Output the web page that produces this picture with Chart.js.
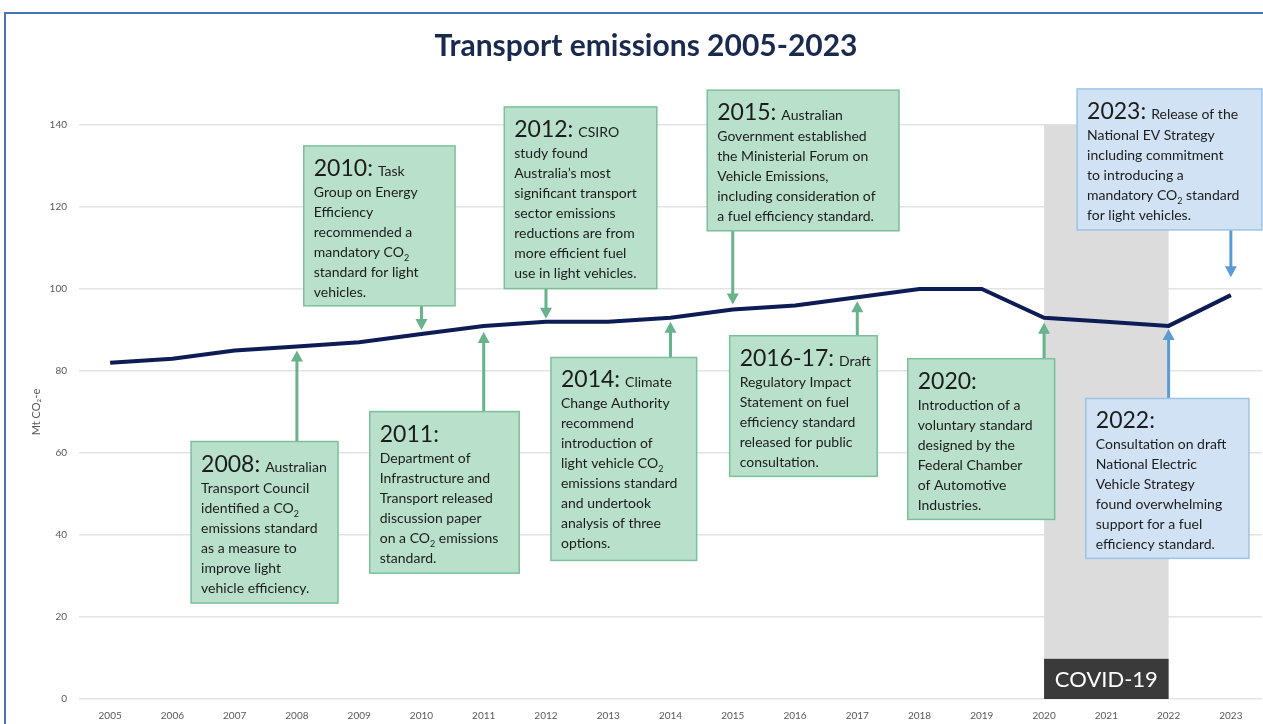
<!DOCTYPE html>
<html>
<head>
<meta charset="utf-8">
<script src="https://cdn.jsdelivr.net/npm/chart.js@4.4.0/dist/chart.umd.min.js"></script>
<style>
  html, body { margin: 0; padding: 0; background: #fff; overflow: hidden; }
  #frame {
    position: absolute; left: 4px; top: 12px; width: 1259px; height: 712px;
    border-top: 2px solid #4a72b5; border-left: 2px solid #4a72b5;
  }
  canvas { position: absolute; left: 0; top: 0; }
</style>
</head>
<body>
<div id="frame"></div>
<canvas id="chart" width="1263" height="724"></canvas>
<script>
// data
const years = ['2005', '2006', '2007', '2008', '2009', '2010', '2011', '2012', '2013', '2014',
  '2015', '2016', '2017', '2018', '2019', '2020', '2021', '2022', '2023'];
const emissions = [82, 83, 85, 86, 87, 89, 91, 92, 92, 93, 95, 96, 98, 100, 100, 93, 92, 91, 98.5];
const yTickMin = 0;
const yTickMax = 140;
const yTickStep = 20;

const covidYears = ['2020', '2022'];
const covidLabel = 'COVID-19';

// milestone notes: year the arrow points at, heading, rest of first line, body lines
const noteYears = ['2008', '2010', '2011', '2012', '2014', '2015', '2017', '2020', '2022', '2023'];
const noteHeads = ['2008:', '2010:', '2011:', '2012:', '2014:', '2015:', '2016-17:', '2020:', '2022:', '2023:'];
const noteLeads = ['Australian', 'Task', '', 'CSIRO', 'Climate', 'Australian', 'Draft', '', '', 'Release of the'];
const noteLines = [
  ['Transport Council', 'identified a CO₂', 'emissions standard', 'as a measure to', 'improve light', 'vehicle efficiency.'],
  ['Group on Energy', 'Efficiency', 'recommended a', 'mandatory CO₂', 'standard for light', 'vehicles.'],
  ['Department of', 'Infrastructure and', 'Transport released', 'discussion paper', 'on a CO₂ emissions', 'standard.'],
  ['study found', 'Australia’s most', 'significant transport', 'sector emissions', 'reductions are from', 'more efficient fuel', 'use in light vehicles.'],
  ['Change Authority', 'recommend', 'introduction of', 'light vehicle CO₂', 'emissions standard', 'and undertook', 'analysis of three', 'options.'],
  ['Government established', 'the Ministerial Forum on', 'Vehicle Emissions,', 'including consideration of', 'a fuel efficiency standard.'],
  ['Regulatory Impact', 'Statement on fuel', 'efficiency standard', 'released for public', 'consultation.'],
  ['Introduction of a', 'voluntary standard', 'designed by the', 'Federal Chamber', 'of Automotive', 'Industries.'],
  ['Consultation on draft', 'National Electric', 'Vehicle Strategy', 'found overwhelming', 'support for a fuel', 'efficiency standard.'],
  ['National EV Strategy', 'including commitment', 'to introducing a', 'mandatory CO₂ standard', 'for light vehicles.']
];

// layout of the note boxes in axis units: [left idx, right idx, top value, bottom value], arrow dir, gap px, tone
const noteLayout = [
  { box: [1.30, 3.66, 62.8, 23.4], dir: 'up', gap: 4, tone: 'green' },
  { box: [3.11, 5.54, 134.9, 95.9], dir: 'down', gap: 4, tone: 'green' },
  { box: [4.17, 6.57, 70.1, 30.7], dir: 'up', gap: 6, tone: 'green' },
  { box: [6.33, 8.78, 144.4, 100.1], dir: 'down', gap: 3, tone: 'green' },
  { box: [7.08, 9.42, 83.3, 33.8], dir: 'up', gap: 4, tone: 'green' },
  { box: [9.59, 12.67, 148.5, 114.2], dir: 'down', gap: 5, tone: 'green' },
  { box: [9.95, 12.32, 88.6, 54.3], dir: 'up', gap: 4, tone: 'green' },
  { box: [12.81, 15.17, 83.0, 43.8], dir: 'up', gap: 5, tone: 'green' },
  { box: [15.67, 18.29, 73.3, 34.3], dir: 'up', gap: 3, tone: 'blue' },
  { box: [15.53, 18.50, 148.8, 114.4], dir: 'down', gap: 18, tone: 'blue' }
];

const tones = {
  green: { fill: '#b9e0cb', stroke: '#7cc09a', arrow: '#66b38c' },
  blue: { fill: '#d0e2f4', stroke: '#9cc3e8', arrow: '#5b9bd5' }
};

const FONT = 'Lato, "Open Sans", sans-serif';
const BODY = 14;

function drawRich(ctx, str, x, y, size) {
  // draws text, rendering "₂" as a small lowered 2
  const parts = str.split('₂');
  let cx = x;
  parts.forEach((p, i) => {
    ctx.font = size + 'px ' + FONT;
    ctx.fillText(p, cx, y);
    cx += ctx.measureText(p).width;
    if (i < parts.length - 1) {
      ctx.font = Math.round(size * 0.65) + 'px ' + FONT;
      ctx.fillText('2', cx, y + 4);
      cx += ctx.measureText('2').width;
    }
  });
  return cx;
}

const notesPlugin = {
  id: 'notes',
  beforeDatasetsDraw(chart) {
    const { ctx, scales: { x, y } } = chart;
    const x0 = x.getPixelForValue(years.indexOf(covidYears[0]));
    const x1 = x.getPixelForValue(years.indexOf(covidYears[1]));
    const yTop = y.getPixelForValue(yTickMax);
    const yBot = y.getPixelForValue(0);
    ctx.save();
    ctx.fillStyle = '#dcdcdc';
    ctx.fillRect(x0, yTop, x1 - x0, yBot - yTop);
    const labTop = y.getPixelForValue(9.8);
    ctx.fillStyle = '#3a3a3a';
    ctx.fillRect(x0, labTop, x1 - x0, yBot - labTop);
    ctx.fillStyle = '#ffffff';
    ctx.font = '22px ' + FONT;
    ctx.textAlign = 'center';
    ctx.textBaseline = 'middle';
    ctx.fillText(covidLabel, (x0 + x1) / 2, (labTop + yBot) / 2 + 1);
    ctx.restore();
  },
  afterDatasetsDraw(chart) {
    const { ctx, scales: { x, y } } = chart;
    ctx.save();
    noteYears.forEach((yr, i) => {
      const lay = noteLayout[i];
      const tone = tones[lay.tone];
      const left = x.getPixelForValue(lay.box[0]);
      const right = x.getPixelForValue(lay.box[1]);
      const top = y.getPixelForValue(lay.box[2]);
      const bottom = y.getPixelForValue(lay.box[3]);

      // arrow
      const idx = years.indexOf(yr);
      const ax = x.getPixelForValue(idx);
      const lineY = y.getPixelForValue(emissions[idx]);
      const head = 10, half = 6;
      ctx.strokeStyle = tone.arrow;
      ctx.fillStyle = tone.arrow;
      ctx.lineWidth = 3;
      let tip;
      if (lay.dir === 'up') {
        tip = lineY + lay.gap;
        ctx.beginPath(); ctx.moveTo(ax, top); ctx.lineTo(ax, tip + head); ctx.stroke();
        ctx.beginPath(); ctx.moveTo(ax, tip); ctx.lineTo(ax - half, tip + head + 1); ctx.lineTo(ax + half, tip + head + 1); ctx.closePath(); ctx.fill();
      } else {
        tip = lineY - lay.gap;
        ctx.beginPath(); ctx.moveTo(ax, bottom); ctx.lineTo(ax, tip - head); ctx.stroke();
        ctx.beginPath(); ctx.moveTo(ax, tip); ctx.lineTo(ax - half, tip - head - 1); ctx.lineTo(ax + half, tip - head - 1); ctx.closePath(); ctx.fill();
      }

      // box
      ctx.fillStyle = tone.fill;
      ctx.fillRect(left, top, right - left, bottom - top);
      ctx.strokeStyle = tone.stroke;
      ctx.lineWidth = 1.5;
      ctx.strokeRect(left, top, right - left, bottom - top);

      // text
      ctx.fillStyle = '#1c1c1c';
      ctx.textAlign = 'left';
      ctx.textBaseline = 'alphabetic';
      const tx = left + 10;
      let ty = top + 30;
      ctx.font = '23px ' + FONT;
      ctx.fillText(noteHeads[i], tx, ty);
      const hw = ctx.measureText(noteHeads[i]).width;
      if (noteLeads[i]) drawRich(ctx, noteLeads[i], tx + hw + 5, ty, BODY);
      ty += 21;
      noteLines[i].forEach(line => {
        drawRich(ctx, line, tx, ty, BODY);
        ty += 20;
      });
    });
    ctx.restore();
  }
};

new Chart(document.getElementById('chart'), {
  type: 'line',
  data: {
    labels: years,
    datasets: [{
      data: emissions,
      borderColor: '#0e1c55',
      borderWidth: 4,
      pointRadius: 0,
      tension: 0,
      fill: false
    }]
  },
  options: {
    responsive: false,
    devicePixelRatio: 1,
    animation: false,
    layout: { padding: { left: 30, right: 1, top: 0, bottom: 0 } },
    plugins: {
      legend: { display: false },
      tooltip: { enabled: false },
      title: {
        display: true,
        text: 'Transport emissions 2005-2023',
        color: '#1a2a4f',
        font: { family: FONT, size: 30, weight: 'bold' },
        padding: { top: 28, bottom: 61 }
      }
    },
    scales: {
      x: {
        offset: true,
        grid: { display: false, drawTicks: false },
        border: { display: false },
        ticks: { color: '#595959', font: { family: FONT, size: 10 }, padding: 11, maxRotation: 0 },
        afterFit(scale) { scale.height = 25; }
      },
      y: {
        min: yTickMin,
        max: yTickMax,
        ticks: { stepSize: yTickStep, color: '#595959', font: { family: FONT, size: 10 }, padding: 12 },
        grid: { color: '#e3e3e3', lineWidth: 1.5, drawTicks: false },
        border: { display: false },
        title: { display: true, text: 'Mt CO₂-e', color: '#595959', font: { family: FONT, size: 11 }, padding: { top: 0, bottom: 0 } },
        afterFit(scale) { scale.width = 49; }
      }
    }
  },
  plugins: [notesPlugin]
});
</script>
</body>
</html>
